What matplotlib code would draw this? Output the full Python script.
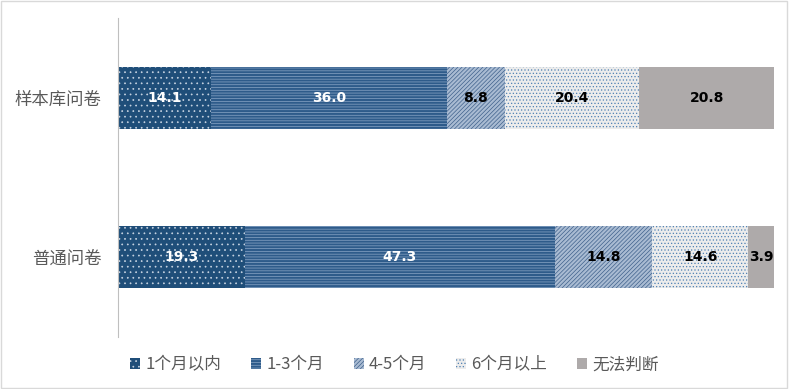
import numpy as np
import matplotlib as mpl
mpl.use('Agg')
from matplotlib import pyplot as plt
from matplotlib.patches import Rectangle

plt.rcParams['font.family'] = ['Noto Sans CJK SC', 'DejaVu Sans']
plt.rcParams['hatch.linewidth'] = 0.5

categories = ['普通问卷', '样本库问卷']
series = ['1个月以内', '1-3个月', '4-5个月', '6个月以上', '无法判断']
values = [
    [19.3, 14.1],
    [47.3, 36.0],
    [14.8, 8.8],
    [14.6, 20.4],
    [3.9, 20.8],
]

faces = ['#1f4e79', '#2e5b8a', '#a9bbd2', '#ececec', '#aeaaaa']
hatch_colors = ['#c9d5e3', '#8aa6c6', '#3f618c', '#4f81b4', '#aeaaaa']
hatches = ['...', '------', '////////', '.....', None]
text_colors = ['white', 'white', 'black', 'black', 'black']

fig = plt.figure(figsize=(7.89, 3.89), dpi=100)
ax = fig.add_axes([0.1496, 0.134, 0.832, 0.82])

y = np.arange(len(categories))
left = np.zeros(len(categories))
handles = []
for i, name in enumerate(series):
    v = np.array(values[i])
    bars = ax.barh(y, v, left=left, height=0.39, color=faces[i],
                   edgecolor=hatch_colors[i], hatch=hatches[i], linewidth=0)
    for b, val in zip(bars, v):
        ax.text(b.get_x() + b.get_width() / 2, b.get_y() + b.get_height() / 2,
                f'{val:.1f}', ha='center', va='center', color=text_colors[i],
                fontsize=10, fontweight='bold', family='DejaVu Sans')
    left += v
    handles.append(Rectangle((0, 0), 1, 1, facecolor=faces[i],
                             edgecolor=hatch_colors[i], hatch=hatches[i], linewidth=0))

ax.set_xlim(0, 100)
ax.set_ylim(-0.5, 1.5)
ax.set_yticks(y)
ax.set_yticklabels(categories, fontsize=12.5, color='#595959')
ax.tick_params(axis='y', length=0, pad=12)
ax.set_xticks([])
for s in ['top', 'right', 'bottom']:
    ax.spines[s].set_visible(False)
ax.spines['left'].set_color('#bfbfbf')

fig.legend(handles, series, loc='center', bbox_to_anchor=(0.5, 0.062), ncol=5,
           frameon=False, fontsize=12, handlelength=0.6, handleheight=0.6,
           handletextpad=0.3, columnspacing=1.8, labelcolor='#595959')

fig.patches.append(Rectangle((0.001, 0.002), 0.997, 0.995, transform=fig.transFigure,
                             fill=False, edgecolor='#d9d9d9', linewidth=1))

fig.savefig('out.png', dpi=100)
